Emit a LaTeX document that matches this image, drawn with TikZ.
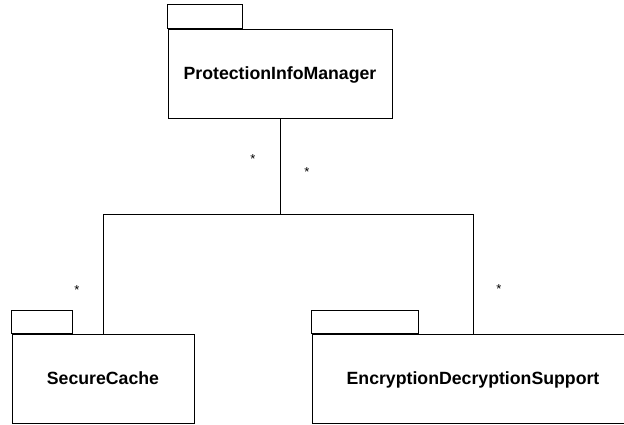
\documentclass[tikz,border=0pt]{standalone}
\usepackage{fontspec}
\setmainfont{Liberation Sans}
\usepackage{tikz}

\begin{document}
\begin{tikzpicture}[x=1pt,y=-1pt]
 	\tikzstyle{every node}+=[inner sep=0pt]
 	\tikzstyle{pkg}=[draw=black, line width=0.9pt, minimum height=89pt, text depth=0pt, font=\fontsize{17.7}{20}\selectfont\bfseries]
 	\tikzstyle{mult}=[font=\fontsize{13}{15}\selectfont]
 	\useasboundingbox (0,0) rectangle (624,425);
 	\clip (0,0) rectangle (624,425);
 	\node [pkg, minimum width=224pt] (pim) at (280,73.5) {ProtectionInfoManager};
 	\draw [black, line width=0.9pt] (pim.north west) rectangle ++(75,-24);
 	\node [pkg, minimum width=182pt] (sc) at (103,378.5) {SecureCache};
 	\draw [black, line width=0.9pt] (sc.north west) rectangle ++(61,-23);
 	\node [pkg, minimum width=322pt] (eds) at (473,378.5) {EncryptionDecryptionSupport};
 	\draw [black, line width=0.9pt] (eds.north west) rectangle ++(107,-23);
 	\coordinate (bus) at (280,214);
 	\draw [black, line width=0.9pt] (pim.south) -- (bus) -| (sc.north);
 	\draw [black, line width=0.9pt] (bus) -| (eds.north);
 	\node [mult] (m1) at (253,159) {*};
 	\node [mult] (m2) at (307,172) {*};
 	\node [mult] (m3) at (77,290) {*};
 	\node [mult] (m4) at (499,289) {*};
\end{tikzpicture}
\end{document}
